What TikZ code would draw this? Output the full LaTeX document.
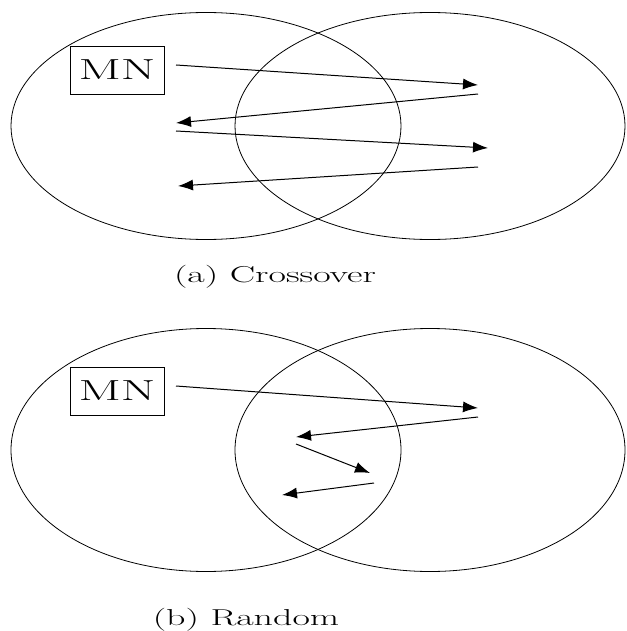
\documentclass[tikz,border=0pt]{standalone}
\usepackage{graphicx}
\usetikzlibrary{arrows.meta,shapes.geometric}
\newcommand{\widetext}[2][1.65]{\scalebox{#1}[1]{#2}}

\begin{document}
\begin{tikzpicture}[
    x=1pt, y=-1pt,
    cell/.style={draw, ellipse, line width=0.8pt, inner sep=0pt, minimum width=390pt},
    mnbox/.style={draw, line width=0.9pt, minimum width=94pt, minimum height=48pt, inner sep=0pt, font=\fontsize{29}{29}\selectfont},
    move/.style={-{Latex[length=15pt,width=11pt]}, line width=1pt},
    caption/.style={font=\fontsize{23}{23}\selectfont}
]
    \useasboundingbox (0,0) rectangle (626,631);

    % (a) Crossover
    \node[cell, minimum height=227pt] (oldA) at (206,126) {};
    \node[cell, minimum height=227pt] (newA) at (430,126) {};
    \node[mnbox] (mnA) at (117,70) {\widetext[1.72]{MN}};

    \coordinate (a1s) at (176,65);  \coordinate (a1e) at (478,85);
    \coordinate (a2s) at (478,94);  \coordinate (a2e) at (176,123);
    \coordinate (a3s) at (176,131); \coordinate (a3e) at (488,148);
    \coordinate (a4s) at (478,167); \coordinate (a4e) at (178,186);

    \draw[move] (a1s) -- (a1e);
    \draw[move] (a2s) -- (a2e);
    \draw[move] (a3s) -- (a3e);
    \draw[move] (a4s) -- (a4e);

    \node[caption] (capA) at (275,277) {\widetext{(a) Crossover}};

    % (b) Random
    \node[cell, minimum height=243pt] (oldB) at (206,450) {};
    \node[cell, minimum height=243pt] (newB) at (430,450) {};
    \node[mnbox] (mnB) at (117,391) {\widetext[1.72]{MN}};

    \coordinate (b1s) at (176,386); \coordinate (b1e) at (478,408);
    \coordinate (b2s) at (478,417); \coordinate (b2e) at (296,437);
    \coordinate (b3s) at (296,444); \coordinate (b3e) at (370,473);
    \coordinate (b4s) at (374,483); \coordinate (b4e) at (282,495);

    \draw[move] (b1s) -- (b1e);
    \draw[move] (b2s) -- (b2e);
    \draw[move] (b3s) -- (b3e);
    \draw[move] (b4s) -- (b4e);

    \node[caption] (capB) at (246,620) {\widetext{(b) Random}};
\end{tikzpicture}
\end{document}
